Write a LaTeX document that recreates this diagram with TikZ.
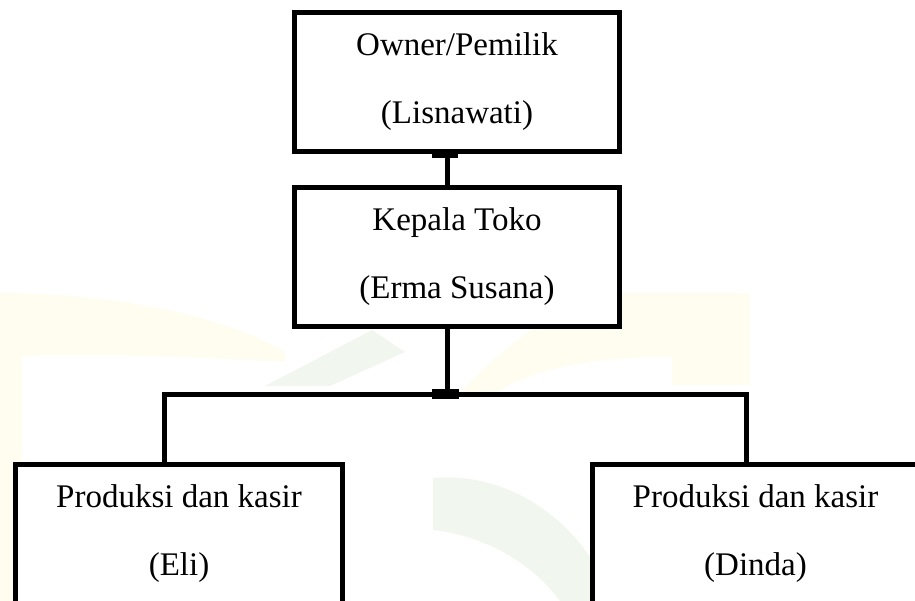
\documentclass[tikz,border=0pt]{standalone}
\usepackage{fontspec}
\setmainfont{Liberation Serif}
\usepackage{tikz}
\usetikzlibrary{calc,positioning}
\definecolor{wmyellow}{RGB}{255,253,240}
\definecolor{wmgreen}{RGB}{241,247,239}

\begin{document}
\begin{tikzpicture}[x=1pt, y=-1pt,
    box/.style={draw, line width=5pt, fill=white, minimum width=325pt,
      minimum height=139pt, inner sep=0pt, align=center,
      font=\fontsize{33}{68}\selectfont},
    link/.style={line width=5pt}]

\useasboundingbox (0,0) rectangle (915,601);
\clip (0,0) rectangle (915,601);

% faint watermark in the background
\fill[wmyellow] (0,601) -- (0,293) .. controls (120,293) and (230,318) .. (285,352)
  -- (285,362) .. controls (200,357) and (60,352) .. (22,357) -- (22,601) -- cycle;
\fill[wmyellow] (460,392) .. controls (520,330) and (580,293) .. (618,293)
  -- (750,293) -- (750,385) -- (672,385) -- (672,357)
  .. controls (590,357) and (530,370) .. (498,392) -- cycle;
\fill[wmgreen] (265,386) -- (372,330) -- (405,352) -- (330,386) -- cycle;
\fill[wmgreen] (433,478) .. controls (500,472) and (560,510) .. (592,560)
  -- (592,601) -- (560,601) .. controls (530,560) and (480,535) .. (433,530) -- cycle;

% boxes
\node[box] (owner) at (457,82) {Owner/Pemilik\\(Lisnawati)};
\node[box] (kepala) at (457,257) {Kepala Toko\\(Erma Susana)};
\node[box, minimum width=327pt] (kasirA) at (179,534) {Produksi dan kasir\\(Eli)};
\node[box, minimum width=327pt] (kasirB) at (755.5,534) {Produksi dan kasir\\(Dinda)};

% connectors
\coordinate (bus) at (447,394);
\draw[link] ([xshift=-10pt]owner.south) -- ([xshift=-10pt]kepala.north);
\draw[link] ([xshift=-10pt]kepala.south) -- (bus);
\draw[link] ([xshift=-15pt]kasirA.north) |- (bus) -| ([xshift=-9.5pt]kasirB.north);

% small bars where the lines join
\draw[line width=8pt] ([xshift=-25pt]owner.south) -- ([xshift=1pt]owner.south);
\draw[line width=10pt] ($(bus)+(-15,0)$) -- ($(bus)+(12,0)$);

\end{tikzpicture}
\end{document}
